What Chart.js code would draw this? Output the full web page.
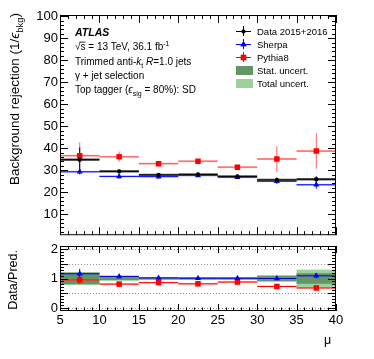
<!DOCTYPE html>
<html>
<head>
<meta charset="utf-8">
<script src="https://cdn.jsdelivr.net/npm/chart.js@4.4.1/dist/chart.umd.min.js"></script>
<style>
  body { margin: 0; background: #fff; }
  #wrap { position: relative; width: 374px; height: 359px; }
  canvas { position: absolute; left: 0; }
</style>
</head>
<body>
<div id="wrap">
  <canvas id="mainChart" width="374" height="245" style="top:0"></canvas>
  <canvas id="ratioChart" width="374" height="129" style="top:230px"></canvas>
</div>
<script>
// bins in mu
const binEdges = [5, 10, 15, 20, 25, 30, 35, 40];
const muCenters = [7.5, 12.5, 17.5, 22.5, 27.5, 32.5, 37.5];

// background rejection, main panel
const dataVals = [34.8, 29.5, 27.9, 28.1, 27.2, 25.6, 25.9];
const dataErr = [5.5, 0.8, 0.6, 0.6, 0.6, 1.0, 1.3];
const dataStat = [0.55, 0.55, 0.5, 0.5, 0.5, 0.55, 0.55];
const sherpaVals = [29.3, 27.2, 27.1, 27.6, 26.8, 25.0, 23.4];
const sherpaErr = [1.2, 1.0, 0.8, 0.6, 0.8, 1.2, 1.8];
const pythiaVals = [36.6, 36.1, 33.0, 34.1, 31.4, 35.1, 38.7];
const pythiaErr = [6.0, 2.3, 1.0, 1.0, 1.2, 5.8, 8.0];

// data / prediction, ratio panel
const sherpaRatio = [1.16, 1.07, 1.02, 1.01, 1.01, 1.0, 1.09];
const sherpaRatioErr = [0.17, 0.04, 0.03, 0.03, 0.04, 0.04, 0.08];
const pythiaRatio = [0.95, 0.81, 0.86, 0.82, 0.88, 0.73, 0.68];
const pythiaRatioErr = [0.12, 0.03, 0.03, 0.03, 0.03, 0.06, 0.08];
const statUnc = [0.19, 0.05, 0.03, 0.03, 0.03, 0.09, 0.18];
const totalUnc = [0.22, 0.08, 0.05, 0.05, 0.05, 0.11, 0.30];

const mainYTicks = [10, 20, 30, 40, 50, 60, 70, 80, 90, 100];
const ratioYTicks = [0, 0.5, 1, 1.5, 2];
const xTicks = [5, 10, 15, 20, 25, 30, 35, 40];

const FONT = '"Liberation Sans", Arial, sans-serif';
const BLUE = 'rgb(0,0,255)';
const RED = 'rgb(255,0,0)';
const STAT_GREEN = 'rgb(98,150,98)';
const TOTAL_GREEN = 'rgb(158,208,158)';

function richWidth(ctx, parts, size) {
  let w = 0;
  parts.forEach(p => {
    const s = (p.sub || p.sup) ? size * 0.7 : size;
    ctx.font = (p.i ? 'italic ' : '') + (p.b ? 'bold ' : '') + s + 'px ' + FONT;
    w += ctx.measureText(p.t).width;
  });
  return w;
}

function drawRich(ctx, parts, x, y, size) {
  parts.forEach(p => {
    const s = (p.sub || p.sup) ? size * 0.7 : size;
    ctx.font = (p.i ? 'italic ' : '') + (p.b ? 'bold ' : '') + s + 'px ' + FONT;
    const dy = p.sub ? size * 0.3 : p.sup ? -size * 0.4 : 0;
    ctx.fillText(p.t, x, y + dy);
    const w = ctx.measureText(p.t).width;
    if (p.over) {
      ctx.fillRect(x - 1, y - size * 0.78, w + 1, 0.8);
    }
    x += w;
  });
  return x;
}

// horizontal bin bars with an optional band, plus vertical error bars
function drawBins(chart, vals, band, err, bandColor, lineColor, lineW) {
  const ctx = chart.ctx, xs = chart.scales.x, ys = chart.scales.y;
  vals.forEach((v, i) => {
    const x0 = xs.getPixelForValue(binEdges[i]);
    const x1 = xs.getPixelForValue(binEdges[i + 1]);
    if (band) {
      const ya = ys.getPixelForValue(v + band[i]);
      const yb = ys.getPixelForValue(v - band[i]);
      ctx.fillStyle = bandColor;
      ctx.fillRect(x0, ya, x1 - x0, Math.max(yb - ya, 1));
    }
    const yc = ys.getPixelForValue(v);
    ctx.strokeStyle = lineColor;
    ctx.lineWidth = lineW;
    ctx.beginPath();
    ctx.moveTo(x0, yc);
    ctx.lineTo(x1, yc);
    ctx.stroke();
    if (err) {
      const xc = xs.getPixelForValue(muCenters[i]);
      ctx.lineWidth = 1;
      ctx.beginPath();
      ctx.moveTo(xc, ys.getPixelForValue(v + err[i]));
      ctx.lineTo(xc, ys.getPixelForValue(v - err[i]));
      ctx.stroke();
    }
  });
}

// ROOT-style frame with inward ticks on all four sides
function drawFrame(chart, yMinorStep, yMajorEvery, yFrom, yTo, xLen) {
  const ctx = chart.ctx, xs = chart.scales.x, ys = chart.scales.y;
  const { left, right, top, bottom } = chart.chartArea;
  ctx.save();
  ctx.strokeStyle = '#000';
  ctx.lineWidth = 1;
  ctx.strokeRect(left + 0.5, top + 0.5, right - left - 1, bottom - top - 1);
  ctx.beginPath();
  for (let v = 5; v <= 40; v++) {
    const px = Math.round(xs.getPixelForValue(v)) + 0.5;
    const len = v % 5 === 0 ? xLen : xLen / 2;
    ctx.moveTo(px, bottom); ctx.lineTo(px, bottom - len);
    ctx.moveTo(px, top); ctx.lineTo(px, top + len);
  }
  for (let k = yFrom; k <= yTo; k++) {
    const py = Math.round(ys.getPixelForValue(k * yMinorStep)) + 0.5;
    if (py < top || py > bottom) continue;
    const len = k % yMajorEvery === 0 ? 8 : 4;
    ctx.moveTo(left, py); ctx.lineTo(left + len, py);
    ctx.moveTo(right, py); ctx.lineTo(right - len, py);
  }
  ctx.stroke();
  ctx.restore();
}

const mainPlugin = {
  id: 'mainDecor',
  beforeDatasetsDraw(chart) {
    const ctx = chart.ctx;
    ctx.save();
    drawBins(chart, pythiaVals, [0.45, 0.45, 0.45, 0.45, 0.45, 0.45, 0.45], pythiaErr, 'rgba(255,120,120,0.55)', 'rgba(255,60,60,0.8)', 1);
    drawBins(chart, sherpaVals, [0.4, 0.4, 0.4, 0.4, 0.4, 0.4, 0.4], sherpaErr, 'rgba(120,120,255,0.55)', BLUE, 1);
    drawBins(chart, dataVals, dataStat, dataErr, 'rgb(90,90,90)', '#000', 1);
    ctx.restore();
  },
  afterDraw(chart) {
    const ctx = chart.ctx;
    drawFrame(chart, 2, 5, 0, 50, 8);
    ctx.save();
    ctx.fillStyle = '#000';
    ctx.textBaseline = 'alphabetic';
    // y title
    const title = [{ t: 'Background rejection (1/' }, { t: 'ϵ', i: 1 }, { t: 'bkg', sub: 1 }, { t: ')' }];
    const tw = richWidth(ctx, title, 13.5);
    ctx.save();
    ctx.translate(18.5, 0);
    ctx.rotate(-Math.PI / 2);
    drawRich(ctx, title, -13 - tw, 0, 13.5);
    ctx.restore();
    // labels
    const lx = 75;
    drawRich(ctx, [{ t: 'ATLAS', b: 1, i: 1 }], lx, 36, 10.5);
    drawRich(ctx, [{ t: '√' }, { t: 's', over: 1 }, { t: ' = 13 TeV, 36.1 fb' }, { t: '-1', sup: 1 }], lx, 49.5, 10);
    drawRich(ctx, [{ t: 'Trimmed anti-' }, { t: 'k', i: 1 }, { t: 't', sub: 1 }, { t: ' ' }, { t: 'R', i: 1 }, { t: '=1.0 jets' }], lx, 64.5, 10);
    drawRich(ctx, [{ t: 'γ + jet selection' }], lx, 78.5, 10);
    drawRich(ctx, [{ t: 'Top tagger (' }, { t: 'ϵ', i: 1 }, { t: 'sig', sub: 1 }, { t: ' = 80%): SD' }], lx, 92.5, 10);
    // legend
    const legend = [
      { label: 'Data 2015+2016', color: '#000', marker: 'circle', y: 31 },
      { label: 'Sherpa', color: BLUE, marker: 'triangle', y: 44 },
      { label: 'Pythia8', color: RED, marker: 'rect', y: 57 }
    ];
    legend.forEach(e => {
      ctx.strokeStyle = e.color;
      ctx.lineWidth = 1;
      ctx.beginPath();
      ctx.moveTo(236, e.y + 0.5); ctx.lineTo(251, e.y + 0.5);
      ctx.moveTo(243.5, e.y - 5); ctx.lineTo(243.5, e.y + 5);
      ctx.stroke();
      ctx.fillStyle = e.color;
      const r = e.marker === 'circle' ? 2 : e.marker === 'triangle' ? 3.5 : 3.8;
      Chart.helpers.drawPoint(ctx, { pointStyle: e.marker, radius: r, borderWidth: 0 }, 243.5, e.y + 0.5);
      ctx.fill();
      ctx.fillStyle = '#000';
      drawRich(ctx, [{ t: e.label }], 257, e.y + 3.5, 9.5);
    });
    ctx.fillStyle = STAT_GREEN;
    ctx.fillRect(236, 66, 17, 9);
    ctx.fillStyle = TOTAL_GREEN;
    ctx.fillRect(236, 79, 17, 9);
    ctx.fillStyle = '#000';
    drawRich(ctx, [{ t: 'Stat. uncert.' }], 257, 73.5, 9.5);
    drawRich(ctx, [{ t: 'Total uncert.' }], 257, 86.5, 9.5);
    ctx.restore();
  }
};

const ratioPlugin = {
  id: 'ratioDecor',
  beforeDatasetsDraw(chart) {
    const ctx = chart.ctx, xs = chart.scales.x, ys = chart.scales.y;
    const { left, right } = chart.chartArea;
    ctx.save();
    // dotted reference lines
    ctx.strokeStyle = 'rgb(150,150,150)';
    ctx.lineWidth = 1;
    ctx.setLineDash([1, 2]);
    ctx.beginPath();
    ratioYTicks.forEach(v => {
      const py = Math.round(ys.getPixelForValue(v)) + 0.5;
      ctx.moveTo(left, py); ctx.lineTo(right, py);
    });
    ctx.stroke();
    ctx.setLineDash([]);
    // uncertainty bands around 1
    binEdges.slice(0, -1).forEach((e, i) => {
      const x0 = xs.getPixelForValue(e), x1 = xs.getPixelForValue(binEdges[i + 1]);
      let ya = ys.getPixelForValue(1 + totalUnc[i]), yb = ys.getPixelForValue(1 - totalUnc[i]);
      ctx.fillStyle = TOTAL_GREEN;
      ctx.fillRect(x0, ya, x1 - x0, yb - ya);
      ya = ys.getPixelForValue(1 + statUnc[i]); yb = ys.getPixelForValue(1 - statUnc[i]);
      ctx.fillStyle = STAT_GREEN;
      ctx.fillRect(x0, ya, x1 - x0, yb - ya);
    });
    drawBins(chart, pythiaRatio, [0.03, 0.03, 0.03, 0.03, 0.03, 0.03, 0.03], pythiaRatioErr, 'rgba(255,120,120,0.55)', RED, 1);
    drawBins(chart, sherpaRatio, [0.03, 0.03, 0.03, 0.03, 0.03, 0.03, 0.03], sherpaRatioErr, 'rgba(120,120,255,0.6)', 'rgb(0,0,200)', 1);
    ctx.restore();
  },
  afterDraw(chart) {
    const ctx = chart.ctx;
    drawFrame(chart, 0.1, 5, -1, 21, 7);
    ctx.save();
    ctx.fillStyle = '#000';
    const title = [{ t: 'Data/Pred.' }];
    const tw = richWidth(ctx, title, 12.5);
    ctx.translate(17, 0);
    ctx.rotate(-Math.PI / 2);
    drawRich(ctx, title, -20 - tw, 0, 12.5);
    ctx.restore();
    ctx.save();
    ctx.fillStyle = '#000';
    drawRich(ctx, [{ t: 'μ' }], 324, 114, 12.5);
    ctx.restore();
  }
};

new Chart(document.getElementById('mainChart'), {
  type: 'scatter',
  data: {
    datasets: [
      {
        label: 'Data 2015+2016',
        data: muCenters.map((x, i) => ({ x, y: dataVals[i] })),
        pointStyle: 'circle', pointRadius: 2.2, backgroundColor: '#000', borderWidth: 0, order: 1
      },
      {
        label: 'Sherpa',
        data: muCenters.map((x, i) => ({ x, y: sherpaVals[i] })),
        pointStyle: 'triangle', pointRadius: 3.5, backgroundColor: BLUE, borderWidth: 0, order: 2
      },
      {
        label: 'Pythia8',
        data: muCenters.map((x, i) => ({ x, y: pythiaVals[i] })),
        pointStyle: 'rect', pointRadius: 3.9, backgroundColor: RED, borderWidth: 0, order: 3
      }
    ]
  },
  options: {
    responsive: false,
    animation: false,
    events: [],
    layout: { padding: { left: 0, right: 38, top: 15, bottom: 5 } },
    plugins: { legend: { display: false }, tooltip: { enabled: false } },
    scales: {
      x: { type: 'linear', min: 5, max: 40, display: false },
      y: {
        min: 0.5, max: 100.5,
        afterBuildTicks: s => { s.ticks = mainYTicks.map(v => ({ value: v })); },
        afterFit: s => { s.width = 60; },
        grid: { display: false, drawTicks: false },
        border: { display: false },
        ticks: { color: '#000', padding: 2, font: { family: FONT, size: 13 } }
      }
    }
  },
  plugins: [mainPlugin]
});

new Chart(document.getElementById('ratioChart'), {
  type: 'scatter',
  data: {
    datasets: [
      {
        label: 'Sherpa',
        data: muCenters.map((x, i) => ({ x, y: sherpaRatio[i] })),
        pointStyle: 'triangle', pointRadius: 3.5, backgroundColor: BLUE, borderWidth: 0, order: 1
      },
      {
        label: 'Pythia8',
        data: muCenters.map((x, i) => ({ x, y: pythiaRatio[i] })),
        pointStyle: 'rect', pointRadius: 3.9, backgroundColor: RED, borderWidth: 0, order: 2
      }
    ]
  },
  options: {
    responsive: false,
    animation: false,
    events: [],
    layout: { padding: { left: 0, right: 38, top: 16, bottom: 0 } },
    plugins: { legend: { display: false }, tooltip: { enabled: false } },
    scales: {
      x: {
        type: 'linear', min: 5, max: 40,
        afterBuildTicks: s => { s.ticks = xTicks.map(v => ({ value: v })); },
        afterFit: s => { s.height = 48; },
        grid: { display: false, drawTicks: false },
        border: { display: false },
        ticks: { color: '#000', padding: 2, maxRotation: 0, font: { family: FONT, size: 13 } }
      },
      y: {
        min: -0.1, max: 2.1,
        afterBuildTicks: s => { s.ticks = ratioYTicks.map(v => ({ value: v })); },
        afterFit: s => { s.width = 60; },
        grid: { display: false, drawTicks: false },
        border: { display: false },
        ticks: { color: '#000', padding: 2, font: { family: FONT, size: 13 }, callback: v => String(v) }
      }
    }
  },
  plugins: [ratioPlugin]
});
</script>
</body>
</html>
